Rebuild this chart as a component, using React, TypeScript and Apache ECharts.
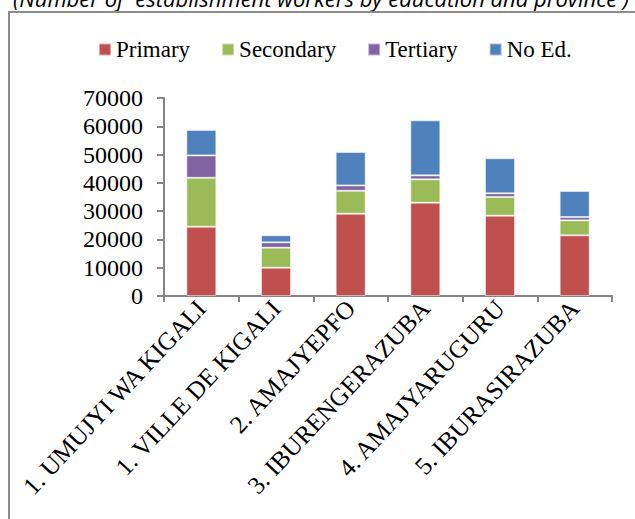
import React, { useEffect, useRef } from "react";
import * as echarts from "echarts";

const categories = [
  "1. UMUJYI WA KIGALI",
  "1. VILLE DE KIGALI",
  "2. AMAJYEPFO",
  "3. IBURENGERAZUBA",
  "4. AMAJYARUGURU",
  "5. IBURASIRAZUBA",
];
const primary = [24500, 10000, 29100, 33000, 28400, 21450];
const secondary = [17300, 7080, 8100, 8250, 6600, 5300];
const tertiary = [7900, 1900, 1900, 1400, 1300, 1170];
const noEd = [9000, 2480, 11800, 19450, 12400, 9200];
const seriesNames = ["Primary", "Secondary", "Tertiary", "No Ed."];
const colors = ["#C0504D", "#9BBB59", "#8064A2", "#4F81BD"];
const caption = "(Number of  establishment workers by education and province )";

export default function App() {
  const ref = useRef<HTMLDivElement>(null);
  useEffect(() => {
    if (!ref.current) return;
    const chart = echarts.init(ref.current, undefined, { renderer: "svg" });
    const data = [primary, secondary, tertiary, noEd];
    const serif = "'Liberation Serif', 'Times New Roman', serif";
    chart.setOption({
      animation: false,
      backgroundColor: "#ffffff",
      color: colors,
      graphic: [
        {
          type: "text",
          left: 13,
          top: -13,
          style: {
            text: caption,
            font: "italic 22px 'Open Sans', sans-serif",
            fill: "#000",
          },
        },
        {
          type: "polyline",
          shape: { points: [[9, 530], [9, 12], [640, 12]] },
          style: { stroke: "#8c8c8c", lineWidth: 2, fill: "none" },
        },
      ],
      legend: {
        left: 93,
        top: 33,
        itemWidth: 12,
        itemHeight: 12,
        itemGap: 31,
        icon: "rect",
        textStyle: { fontFamily: serif, fontSize: 23, color: "#000" },
        data: seriesNames,
      },
      grid: { left: 164, right: 23, top: 98, bottom: 223, containLabel: false },
      xAxis: {
        type: "category",
        data: categories,
        axisLine: { lineStyle: { color: "#868686", width: 2 } },
        axisTick: { show: true, length: 6, lineStyle: { color: "#868686", width: 2 } },
        axisLabel: {
          rotate: 47,
          interval: 0,
          margin: 8,
          fontFamily: serif,
          fontSize: 25,
          color: "#000",
        },
      },
      yAxis: {
        type: "value",
        min: 0,
        max: 70000,
        interval: 10000,
        axisLine: { show: true, lineStyle: { color: "#868686", width: 2 } },
        axisTick: { show: true, length: 7, lineStyle: { color: "#868686", width: 2 } },
        splitLine: { show: false },
        axisLabel: {
          margin: 21,
          fontFamily: serif,
          fontSize: 24,
          color: "#000",
          formatter: (v: number) => String(v),
        },
      },
      series: seriesNames.map((name, i) => ({
        name,
        type: "bar",
        stack: "total",
        barWidth: 30,
        data: data[i],
        itemStyle: {
          color: colors[i],
          borderColor: "rgba(255,255,255,0.5)",
          borderWidth: 1,
        },
      })),
    });
    return () => chart.dispose();
  }, []);
  return (
    <div
      ref={ref}
      style={{ position: "fixed", left: 0, top: 0, width: 635, height: 519 }}
    />
  );
}
